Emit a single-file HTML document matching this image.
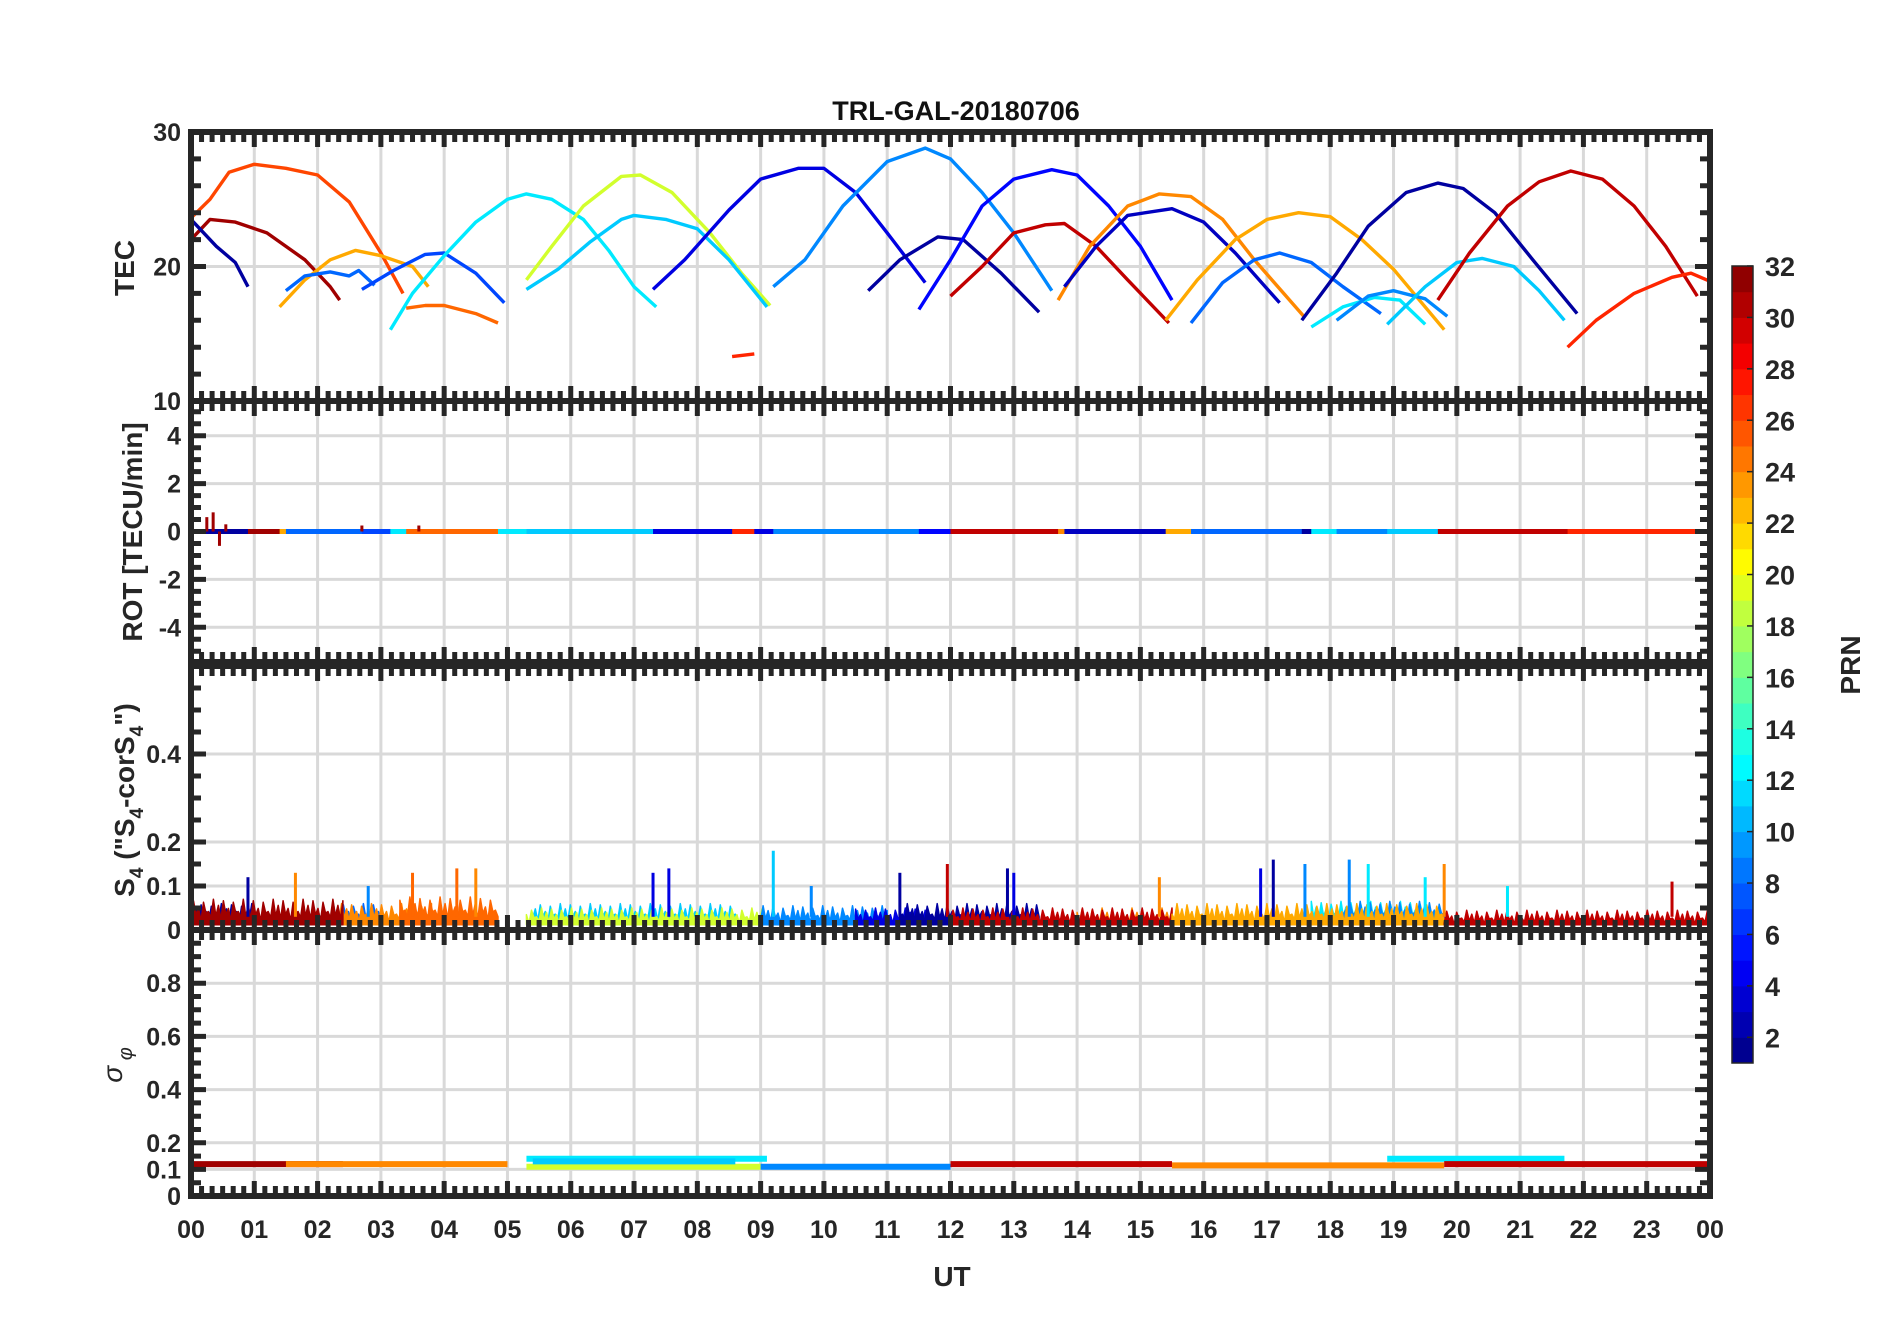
<!DOCTYPE html>
<html><head><meta charset="utf-8"><style>
html,body{margin:0;padding:0;background:#fff;}
svg{display:block;font-family:"Liberation Sans",Arial,sans-serif;font-weight:bold;}
</style></head><body>
<svg id="fig" width="1902" height="1330" viewBox="0 0 1902 1330" xmlns="http://www.w3.org/2000/svg">
<rect width="1902" height="1330" fill="#fff"/>
<text x="956" y="120" text-anchor="middle" font-size="27" fill="#111">TRL-GAL-20180706</text>
<text transform="translate(134,268) rotate(-90)" text-anchor="middle" font-size="28" fill="#262626">TEC</text>
<text transform="translate(142,532) rotate(-90)" text-anchor="middle" font-size="28" fill="#262626">ROT [TECU/min]</text>
<text transform="translate(134,800) rotate(-90)" text-anchor="middle" font-size="28" fill="#262626">S<tspan font-size="19" dy="9">4</tspan><tspan dy="-9"> ("S</tspan><tspan font-size="19" dy="9">4</tspan><tspan dy="-9">-corS</tspan><tspan font-size="19" dy="9">4</tspan><tspan dy="-9">")</tspan></text>
<text transform="translate(122,1065) rotate(-90)" text-anchor="middle" font-size="28" font-style="italic" font-weight="normal" fill="#262626">σ<tspan font-size="20" dy="10"> φ</tspan></text>
<text x="952" y="1286" text-anchor="middle" font-size="28" fill="#262626">UT</text>
<text transform="translate(1860,665) rotate(-90)" text-anchor="middle" font-size="28" fill="#262626">PRN</text>
<g id="layer"></g>
</svg>
<script>
// ---- data ----
const hours = ["00","01","02","03","04","05","06","07","08","09","10","11","12","13","14","15","16","17","18","19","20","21","22","23","00"];
const arcPrn = [26,31,2,23,8,7,12,25,19,11,4,2,9,5,30,24,3,23,8,2,12,9,11,30,27,27];
const arcPts = [
 [[0,23.6],[0.3,25],[0.6,27],[1.0,27.6],[1.5,27.3],[2.0,26.8],[2.5,24.8],[3.0,21],[3.35,18]],
 [[0,22],[0.3,23.5],[0.7,23.3],[1.2,22.5],[1.8,20.5],[2.2,18.5],[2.35,17.5]],
 [[0,23.5],[0.4,21.5],[0.7,20.3],[0.9,18.5]],
 [[1.4,17],[1.8,19],[2.2,20.5],[2.6,21.2],[3.0,20.8],[3.5,20.0],[3.75,18.5]],
 [[1.5,18.2],[1.8,19.3],[2.2,19.6],[2.5,19.3],[2.65,19.7],[2.9,18.6]],
 [[2.7,18.3],[3.2,19.7],[3.7,20.9],[4.0,21],[4.5,19.5],[4.95,17.3]],
 [[3.15,15.3],[3.5,18],[4.0,20.8],[4.5,23.3],[5.0,25],[5.3,25.4],[5.7,25],[6.2,23.5],[6.6,21.2],[7.0,18.5],[7.35,17]],
 [[3.4,16.9],[3.7,17.1],[4.0,17.1],[4.5,16.5],[4.85,15.8]],
 [[5.3,19],[5.7,21.5],[6.2,24.5],[6.8,26.7],[7.1,26.8],[7.6,25.5],[8.2,22.5],[8.7,19.5],[9.15,17.1]],
 [[5.3,18.3],[5.8,19.8],[6.3,21.8],[6.8,23.5],[7.0,23.8],[7.5,23.5],[8.0,22.8],[8.5,20.5],[9.1,17]],
 [[7.3,18.3],[7.8,20.5],[8.5,24.2],[9.0,26.5],[9.6,27.3],[10.0,27.3],[10.5,25.5],[11.0,22.5],[11.6,18.8]],
 [[10.7,18.2],[11.2,20.5],[11.8,22.2],[12.2,22],[12.8,19.5],[13.4,16.6]],
 [[9.2,18.5],[9.7,20.5],[10.3,24.5],[11.0,27.8],[11.6,28.8],[12.0,28],[12.5,25.5],[13.0,22.5],[13.6,18.2]],
 [[11.5,16.8],[12.0,20.5],[12.5,24.5],[13.0,26.5],[13.6,27.2],[14.0,26.8],[14.5,24.5],[15.0,21.5],[15.5,17.5]],
 [[12.0,17.8],[12.5,20],[13.0,22.5],[13.5,23.1],[13.8,23.2],[14.3,21.5],[14.8,19.0],[15.45,15.8]],
 [[13.7,17.5],[14.2,21.5],[14.8,24.5],[15.3,25.4],[15.8,25.2],[16.3,23.5],[16.8,20.5],[17.6,16.2]],
 [[13.8,18.5],[14.3,21.5],[14.8,23.8],[15.5,24.3],[16.0,23.3],[16.5,21],[17.2,17.3]],
 [[15.4,16],[15.9,19],[16.5,22],[17.0,23.5],[17.5,24],[18.0,23.7],[18.5,22],[19.0,19.8],[19.8,15.3]],
 [[15.8,15.8],[16.3,18.8],[16.8,20.5],[17.2,21],[17.7,20.3],[18.2,18.5],[18.8,16.5]],
 [[17.55,16],[18.1,19.5],[18.6,23],[19.2,25.5],[19.7,26.2],[20.1,25.8],[20.6,24],[21.2,20.5],[21.9,16.5]],
 [[17.7,15.5],[18.2,17],[18.7,17.7],[19.1,17.5],[19.5,15.7]],
 [[18.1,16],[18.6,17.8],[19.0,18.2],[19.5,17.6],[19.85,16.3]],
 [[18.9,15.7],[19.5,18.5],[20.0,20.3],[20.4,20.6],[20.9,20],[21.3,18.2],[21.7,16]],
 [[19.7,17.5],[20.2,21],[20.8,24.5],[21.3,26.3],[21.8,27.1],[22.3,26.5],[22.8,24.5],[23.3,21.5],[23.8,17.8]],
 [[21.75,14],[22.2,16],[22.8,18],[23.4,19.2],[23.7,19.5],[24,18.9]],
 [[8.55,13.3],[8.9,13.5]]
];
const s4Prn   = [2,8,24,31,25,11,19,9,4,2,24,30,12,9,23,30];
const s4Start = [0,1.5,2.3,0,3.3,5.4,5.3,9.0,10.5,11.2,14.0,12.0,17.7,18.2,15.5,19.8];
const s4End   = [1.0,3.0,3.8,2.4,4.85,8.6,9.1,11.0,11.6,13.4,15.5,15.5,19.5,19.8,19.8,24];
const s4Level = [0.06,0.06,0.06,0.07,0.075,0.06,0.05,0.055,0.05,0.06,0.05,0.05,0.065,0.065,0.06,0.045];
const spikeT   = [0.9,1.65,2.8,3.5,4.2,4.5,7.3,7.55,9.2,9.8,11.2,11.95,12.9,13.0,15.3,16.9,17.1,17.6,18.3,18.6,19.5,19.8,20.8,23.4];
const spikeV   = [0.12,0.13,0.1,0.13,0.14,0.14,0.13,0.14,0.18,0.1,0.13,0.15,0.14,0.13,0.12,0.14,0.16,0.15,0.16,0.15,0.12,0.15,0.1,0.11];
const spikePrn = [2,24,9,25,25,24,4,4,11,9,2,30,2,4,24,4,2,9,9,12,12,24,12,30];
const sigPrn   = [31,24,12,19,11,9,30,24,12,30];
const sigStart = [0,1.5,5.3,5.3,5.4,9.0,12.0,15.5,18.9,19.8];
const sigEnd   = [2.4,5.0,9.1,9.0,8.6,12.0,15.5,19.8,21.7,24];
const sigLevel = [0.12,0.12,0.14,0.11,0.13,0.11,0.12,0.115,0.14,0.12];
const rotT = [0.25,0.35,0.45,0.55,2.7,3.6];
const rotA = [0.6,0.8,-0.6,0.3,0.25,0.25];
const cbTicks = [2,4,6,8,10,12,14,16,18,20,22,24,26,28,30,32];

const X0=191, X1=1710;
const x = h => X0 + (X1-X0)*h/24;
const P = [
 {top:132,bot:401,min:10,max:30,ticks:[10,20,30],lbl:["10","20","30"],minor:2,name:"tec"},
 {top:401,bot:662,min:-5.45,max:5.45,ticks:[-4,-2,0,2,4],lbl:["-4","-2","0","2","4"],minor:0.5,name:"rot"},
 {top:666,bot:930,min:0,max:0.6,ticks:[0,0.1,0.2,0.4],lbl:["0","0.1","0.2","0.4"],minor:0.05,name:"s4"},
 {top:930,bot:1196,min:0,max:1,ticks:[0,0.1,0.2,0.4,0.6,0.8],lbl:["0","0.1","0.2","0.4","0.6","0.8"],minor:0.05,name:"sigma"}
];
const yv = (p,v) => p.bot - (v-p.min)/(p.max-p.min)*(p.bot-p.top);
function jet(prn){
 const t=Math.max(0,Math.min(1,(prn-1)/31));
 const c=v=>Math.round(255*Math.max(0,Math.min(1,1.5-Math.abs(v))));
 return `rgb(${c(4*t-3)},${c(4*t-2)},${c(4*t-1)})`;
}
const NS="http://www.w3.org/2000/svg";
const layer=document.getElementById('layer');
function mk(tag,attrs,parent){const e=document.createElementNS(NS,tag);for(const k in attrs)e.setAttribute(k,attrs[k]);(parent||layer).appendChild(e);return e;}

P.forEach((p,pi)=>{
 const g=mk('g',{});
 
 
 for(let h=1;h<24;h++){
  const gl=mk('line',{x1:x(h),x2:x(h),y1:p.top,y2:p.bot,stroke:'#d9d9d9','stroke-width':3},g);
  
  
 }
 p.ticks.forEach(v=>{
  const gl=mk('line',{x1:X0,x2:X1,y1:yv(p,v),y2:yv(p,v),stroke:'#d9d9d9','stroke-width':3},g);
  
  
 });
 p.g=g;
});

const tp=P[0];
arcPts.forEach((pts,i)=>{
 const d=pts.map((q,j)=>(j?'L':'M')+x(q[0]).toFixed(1)+','+yv(tp,q[1]).toFixed(1)).join('');
 const e=mk('path',{d:d,fill:'none',stroke:jet(arcPrn[i]),'stroke-width':3.4,'stroke-linejoin':'round'},tp.g);
 
 
});
const rp=P[1];
arcPts.forEach((pts,i)=>{
 const t0=pts[0][0], t1=pts[pts.length-1][0];
 const e=mk('line',{x1:x(t0),x2:x(t1),y1:yv(rp,0),y2:yv(rp,0),stroke:jet(arcPrn[i]),'stroke-width':5},rp.g);
 
 
});
rotT.forEach((t,i)=>{
 const e=mk('line',{x1:x(t),x2:x(t),y1:yv(rp,0),y2:yv(rp,rotA[i]),stroke:jet(31),'stroke-width':3},rp.g);
 
 
});
const sp=P[2];
const jag=[1,0.45,0.8,0.35,0.95,0.5,0.7,0.3,0.9,0.55,0.6,0.4];
s4Prn.forEach((prn,i)=>{
 const xa=x(s4Start[i]), xb=x(s4End[i]);
 const lv=s4Level[i];
 let d='M'+xa+','+yv(sp,0.012);
 const n=Math.max(2,Math.round((xb-xa)/2.5));
 for(let k=0;k<=n;k++){
  const xx=xa+(xb-xa)*k/n;
  const v=lv*jag[(k+i*5)%jag.length];
  d+='L'+xx.toFixed(1)+','+yv(sp,v).toFixed(1);
 }
 d+='L'+xb+','+yv(sp,0.012)+'Z';
 const e=mk('path',{d:d,fill:jet(prn),stroke:jet(prn),'stroke-width':1.5,'stroke-linejoin':'round'},sp.g);
 
 
});
spikeT.forEach((t,i)=>{
 const e=mk('line',{x1:x(t),x2:x(t),y1:yv(sp,0.03),y2:yv(sp,spikeV[i]),stroke:jet(spikePrn[i]),'stroke-width':3},sp.g);
 
 
});
const gp=P[3];
sigPrn.forEach((prn,i)=>{
 const e=mk('line',{x1:x(sigStart[i]),x2:x(sigEnd[i]),y1:yv(gp,sigLevel[i]),y2:yv(gp,sigLevel[i]),stroke:jet(prn),'stroke-width':6},gp.g);
 
 
});

P.forEach(p=>{
 const g=mk('g',{});
 
 
 mk('rect',{x:X0,y:p.top,width:X1-X0,height:p.bot-p.top,fill:'none',stroke:'#262626','stroke-width':6},g);
 let d='';
 for(let m=0;m<=24*6;m++){
  const xx=x(m/6), L=(m%6===0)?15:10;
  d+=`M${xx},${p.top}v${L}M${xx},${p.bot}v${-L}`;
 }
 for(let v=p.min<0?-5:p.min; v<=p.max+1e-9; v+=p.minor){
  const yy=yv(p,v); if(yy<p.top-1||yy>p.bot+1)continue;
  const maj=p.ticks.some(t=>Math.abs(t-v)<1e-6), L=maj?15:10;
  d+=`M${X0},${yy}h${L}M${X1},${yy}h${-L}`;
 }
 mk('path',{d:d,stroke:'#262626','stroke-width':5,fill:'none'},g);
 p.ticks.forEach((v,i)=>{
  const t=mk('text',{x:X0-10,y:yv(p,v)+9,'text-anchor':'end','font-size':25,fill:'#262626'},g);
  t.textContent=p.lbl[i];
  
  
 });
});
hours.forEach((h,i)=>{
 const t=mk('text',{x:x(i),y:1238,'text-anchor':'middle','font-size':25,fill:'#262626'});
 t.textContent=h;
 
 
});
const CB={x:1732,w:21,top:266,bot:1063};
const cby=v=>CB.bot-(v-1)/31*(CB.bot-CB.top);
const cb=mk('g',{});


for(let k=1;k<32;k++){
 mk('rect',{x:CB.x,y:cby(k+1),width:CB.w,height:cby(k)-cby(k+1)+0.5,fill:jet(k+0.5)},cb);
}
mk('rect',{x:CB.x,y:CB.top,width:CB.w,height:CB.bot-CB.top,fill:'none',stroke:'#262626','stroke-width':1.5},cb);
cbTicks.forEach(v=>{
 mk('line',{x1:CB.x+CB.w-6,x2:CB.x+CB.w,y1:cby(v),y2:cby(v),stroke:'#262626','stroke-width':1.5},cb);
 const t=mk('text',{x:1765,y:cby(v)+10,'font-size':27,fill:'#262626'},cb);
 t.textContent=v;
 
 
});
</script>
</body></html>
